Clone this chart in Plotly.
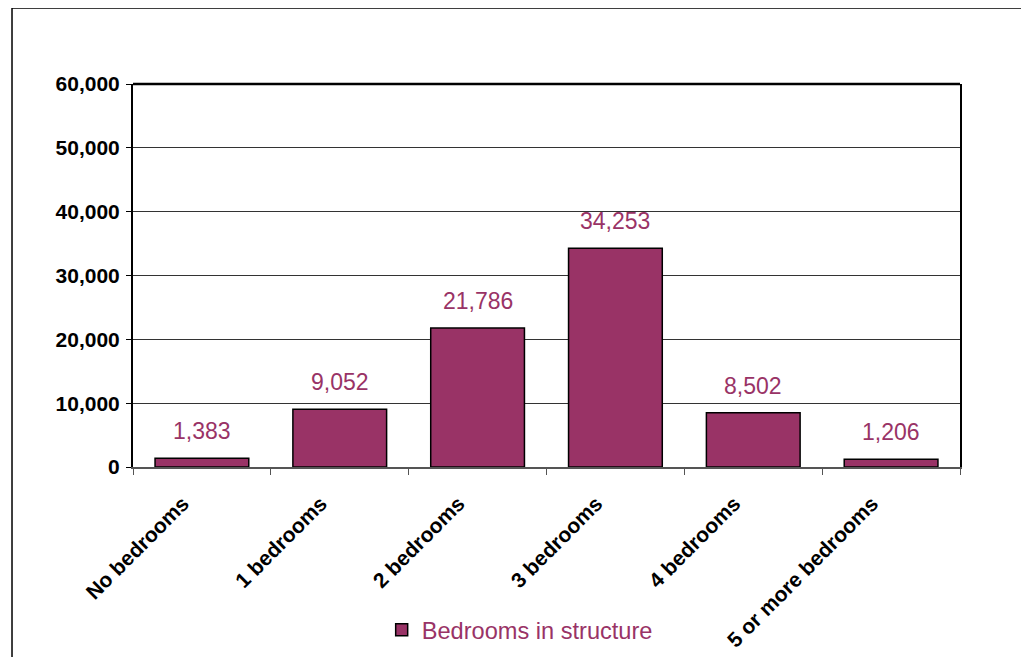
import plotly.graph_objects as go

categories = ["No bedrooms", "1 bedrooms", "2 bedrooms", "3 bedrooms", "4 bedrooms", "5 or more bedrooms"]
values = [1383, 9052, 21786, 34253, 8502, 1206]
series_name = "Bedrooms in structure"
y_ticks = [0, 10000, 20000, 30000, 40000, 50000, 60000]

BAR = "#993366"
FONT = "Arial, Liberation Sans, sans-serif"

fig = go.Figure()
fig.add_trace(go.Bar(
    x=categories, y=values, name=series_name,
    marker=dict(color=BAR, line=dict(color="black", width=1.5)),
    width=0.68, showlegend=True,
))

for c, v in zip(categories, values):
    fig.add_annotation(x=c, y=v, text=f"{v:,}", showarrow=False,
                       yanchor="bottom", yshift=12,
                       font=dict(family=FONT, size=23, color=BAR))

# outer chart border
fig.add_shape(type="rect", xref="paper", yref="paper",
              x0=-0.1463, x1=1.081, y0=-0.52, y1=1.1984,
              line=dict(color="black", width=1.5), layer="below")
# top border of plot area
fig.add_shape(type="line", xref="paper", yref="paper", x0=0, x1=1, y0=1, y1=1,
              line=dict(color="black", width=2.5))

fig.update_layout(
    width=1021, height=649,
    margin=dict(l=125, r=69, t=76, b=190, autoexpand=False),
    paper_bgcolor="white", plot_bgcolor="white",
    font=dict(family=FONT, color="black"),
    legend=dict(orientation="h", x=0.3007, xanchor="left",
                yref="container", y=0.0416, yanchor="middle",
                font=dict(family=FONT, size=23.6, color=BAR), bgcolor="rgba(0,0,0,0)"),
    xaxis=dict(
        type="category", tickangle=-45, automargin=False,
        tickfont=dict(family=FONT, size=21, color="black", weight="bold"),
        ticklabelshift=-19, ticklabelstandoff=14,
        showline=True, linecolor="#555555", linewidth=2, mirror=False,
        ticks="outside", ticklen=6, tickcolor="#555555", tickson="boundaries",
        showgrid=False,
    ),
    yaxis=dict(
        range=[0, 60000], tickvals=y_ticks, tickformat=",", automargin=False,
        tickfont=dict(family=FONT, size=21, color="black", weight="bold"),
        ticklabelstandoff=2,
        showline=True, linecolor="black", linewidth=2, mirror=True,
        ticks="outside", ticklen=5, tickcolor="black",
        showgrid=True, gridcolor="#333333", gridwidth=1, zeroline=False,
    ),
)

fig.write_html("out.html")
